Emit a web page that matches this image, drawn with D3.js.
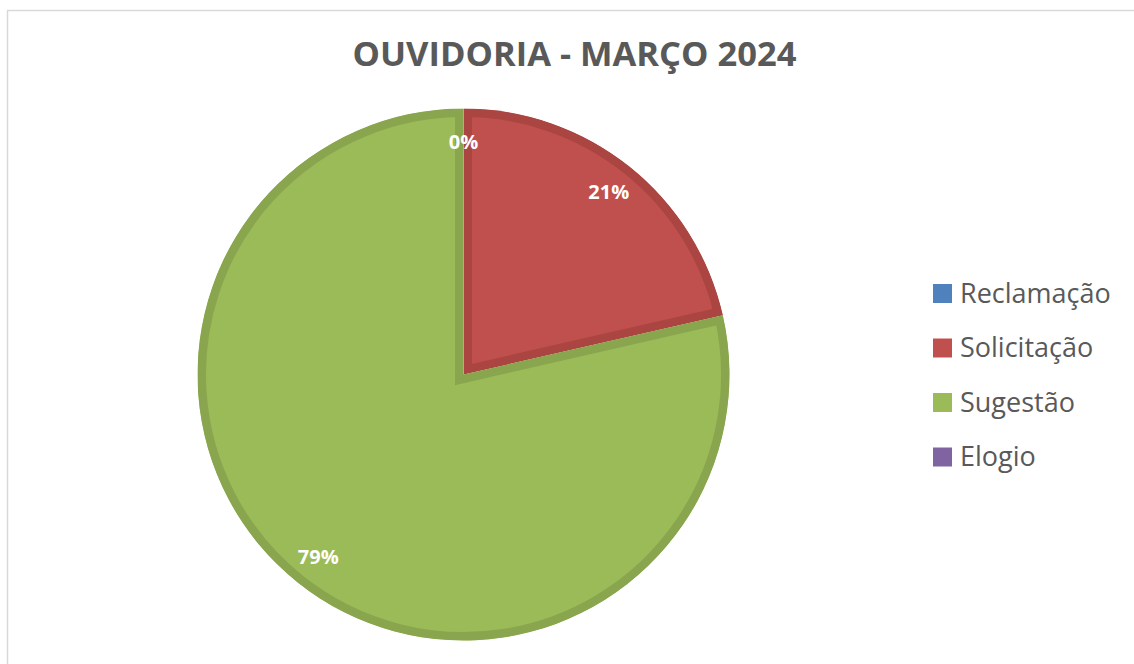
<!DOCTYPE html>
<html>
<head>
<meta charset="utf-8">
<script src="https://cdn.jsdelivr.net/npm/d3@7"></script>
<style>
  body { margin: 0; background: #fff; }
  svg { display: block; }
</style>
</head>
<body>
<div id="chart"></div>
<script>
const categories = ["Reclamação", "Solicitação", "Sugestão", "Elogio"];
const counts = [0, 3, 11, 0];
const fills = ["#4f81bd", "#c0504d", "#9bbb59", "#8064a2"];
const edges = ["#44709f", "#ab4542", "#89a64e", "#6f578e"];

const width = 1134;
const height = 664;
const center = { x: 463.5, y: 374.5 };
const radius = 266;
const labelRadius = 233;

const svg = d3.select("#chart")
    .append("svg")
    .attr("width", width)
    .attr("height", height);

// chart frame
svg.append("rect")
    .attr("x", 7.5).attr("y", 10.5)
    .attr("width", width + 20).attr("height", height + 20)
    .attr("fill", "none")
    .attr("stroke", "#d9d9d9")
    .attr("stroke-width", 1.5);

svg.append("text")
    .attr("x", 574.5).attr("y", 66)
    .attr("text-anchor", "middle")
    .attr("font-family", "Open Sans")
    .attr("font-weight", "bold")
    .attr("font-size", 34.5)
    .attr("fill", "#595959")
    .text("OUVIDORIA - MARÇO 2024");

const data = categories.map((c, i) => ({ name: c, value: counts[i], i }));
const total = d3.sum(counts);

const pie = d3.pie().sort(null).value(d => d.value);
const arcs = pie(data);

const arc = d3.arc().innerRadius(0).outerRadius(radius);
const labelArc = d3.arc().innerRadius(labelRadius).outerRadius(labelRadius);

const g = svg.append("g")
    .attr("transform", `translate(${center.x}, ${center.y})`);

const defs = svg.append("defs");
arcs.forEach((d, k) => {
    defs.append("clipPath").attr("id", "clip" + k)
        .append("path").attr("d", arc(d));
});

g.selectAll("path.slice")
    .data(arcs.filter(d => d.value > 0))
    .enter()
    .append("path")
    .attr("class", "slice")
    .attr("d", arc)
    .attr("fill", d => fills[d.data.i])
    .attr("stroke", d => edges[d.data.i])
    .attr("stroke-width", 17)
    .attr("stroke-linejoin", "miter")
    .attr("clip-path", d => `url(#clip${d.index})`);

// label every slice; both empty slices land on the same spot at the top
g.selectAll("text.label")
    .data(arcs.filter(d => d.index < 3))
    .enter()
    .append("text")
    .attr("class", "label")
    .attr("transform", d => {
        const [x, y] = labelArc.centroid(d);
        return `translate(${x}, ${y})`;
    })
    .attr("text-anchor", "middle")
    .attr("dy", "0.35em")
    .attr("font-family", "Open Sans")
    .attr("font-weight", "bold")
    .attr("font-size", 20)
    .attr("fill", "#fff")
    .text(d => Math.round(d.value / total * 100) + "%");

const legend = svg.append("g")
    .attr("transform", "translate(933, 284)");

const item = legend.selectAll("g")
    .data(categories)
    .enter()
    .append("g")
    .attr("transform", (d, i) => `translate(0, ${i * 54.5})`);

item.append("rect")
    .attr("width", 19).attr("height", 19)
    .attr("fill", (d, i) => fills[i]);

item.append("text")
    .attr("x", 27).attr("y", 9.5)
    .attr("dy", "0.35em")
    .attr("font-family", "Open Sans")
    .attr("font-size", 27)
    .attr("fill", "#595959")
    .text(d => d);
</script>
</body>
</html>
